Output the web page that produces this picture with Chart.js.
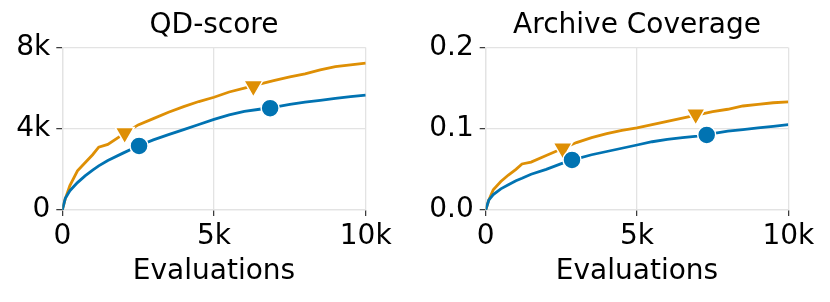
<!DOCTYPE html>
<html>
<head>
<meta charset="utf-8">
<script src="https://cdn.jsdelivr.net/npm/chart.js@4"></script>
<style>
  body { margin: 0; background: #fff; }
  #wrap { display: flex; width: 830px; height: 302px; }
  canvas { display: block; }
</style>
</head>
<body>
<div id="wrap">
  <canvas id="qd-chart" width="415" height="302"></canvas>
  <canvas id="cov-chart" width="415" height="302"></canvas>
</div>
<script>
// evaluation counts shared by every curve
const evals = [0, 100, 250, 500, 750, 1000, 1200, 1500, 2000, 2500, 3000, 3500, 4000,
  4500, 5000, 5500, 6000, 6500, 7000, 7500, 8000, 8500, 9000, 9500, 10000];

// QD-score
const qdBlue = [0, 580, 950, 1350, 1680, 1960, 2170, 2440, 2800, 3150, 3450, 3710, 3960,
  4210, 4460, 4680, 4850, 4960, 5060, 5200, 5310, 5400, 5490, 5580, 5660];
const qdOrange = [0, 560, 1200, 1930, 2330, 2720, 3090, 3230, 3720, 4190, 4500, 4810, 5090,
  5340, 5550, 5810, 6000, 6200, 6380, 6550, 6700, 6900, 7060, 7150, 7230];
const qdBlueMarkX = [2530, 6850];
const qdBlueMarkY = [3155, 5013];
const qdOrangeMarkX = [2056, 6296];
const qdOrangeMarkY = [3795, 6100];

// Archive coverage
const covBlue = [0, 0.012, 0.019, 0.026, 0.031, 0.036, 0.039, 0.044, 0.050, 0.057, 0.063, 0.068, 0.072,
  0.076, 0.080, 0.084, 0.087, 0.089, 0.091, 0.094, 0.097, 0.099, 0.101, 0.103, 0.105];
const covOrange = [0, 0.012, 0.025, 0.035, 0.043, 0.050, 0.0567, 0.059, 0.067, 0.075, 0.083, 0.089, 0.094,
  0.098, 0.101, 0.105, 0.109, 0.113, 0.117, 0.121, 0.124, 0.128, 0.130, 0.132, 0.133];
const covBlueMarkX = [2852, 7303];
const covBlueMarkY = [0.0616, 0.0924];
const covOrangeMarkX = [2545, 6940];
const covOrangeMarkY = [0.076, 0.1179];

const xTicks = [0, 5000, 10000];

const BLUE = '#0173b2';
const ORANGE = '#de8f05';
const GRID = '#e3e3e3';

Chart.defaults.font.family = "'DejaVu Sans', sans-serif";
Chart.defaults.font.size = 28;
Chart.defaults.color = '#000';

function toPoints(xs, ys) {
  return xs.map((x, i) => ({ x: x, y: ys[i] }));
}

function kLabel(v) {
  return v === 0 ? '0' : (v / 1000) + 'k';
}

function lineSet(ys, color) {
  return {
    type: 'line',
    data: toPoints(evals, ys),
    borderColor: color,
    borderWidth: 2.8,
    pointRadius: 0,
    tension: 0,
    fill: false,
    order: 2,
  };
}

function markSet(xs, ys, color, style) {
  return {
    type: 'scatter',
    data: toPoints(xs, ys),
    backgroundColor: color,
    borderColor: '#fff',
    borderWidth: 1.5,
    pointStyle: style,
    pointRadius: style === 'circle' ? 9 : 11,
    pointRotation: style === 'triangle' ? 180 : 0,
    order: 1,
  };
}

function makeChart(el, title, datasets, yMax, yStep, yFmt, yWidth, padRight) {
  return new Chart(el.getContext('2d'), {
    type: 'line',
    data: { datasets: datasets },
    options: {
      responsive: false,
      animation: false,
      layout: { padding: { left: 0, right: padRight, top: 0, bottom: 0 } },
      plugins: {
        legend: { display: false },
        tooltip: { enabled: false },
        title: {
          display: true,
          text: title,
          fullSize: false,
          color: '#000',
          font: { size: 28, weight: 'normal' },
          padding: { top: 9.2, bottom: 4.7 },
        },
      },
      scales: {
        x: {
          type: 'linear',
          min: 0,
          max: 10000,
          afterFit: (s) => { s.height = 92; },
          afterBuildTicks: (s) => { s.ticks = xTicks.map((v) => ({ value: v })); },
          ticks: { callback: kLabel, padding: 4, maxRotation: 0 },
          grid: { color: GRID, lineWidth: 1.3, tickColor: '#333', tickLength: 6, tickWidth: 1.2 },
          border: { color: GRID, width: 1.3 },
          title: { display: true, text: 'Evaluations', color: '#000', padding: { top: 0, bottom: 13.5 } },
        },
        y: {
          min: 0,
          max: yMax,
          afterFit: (s) => { s.width = yWidth; },
          ticks: { stepSize: yStep, callback: yFmt, padding: 6 },
          grid: { color: GRID, lineWidth: 1.3, tickColor: '#333', tickLength: 6, tickWidth: 1.2 },
          border: { color: GRID, width: 1.3 },
        },
      },
    },
  });
}

makeChart(document.getElementById('qd-chart'), 'QD-score', [
  lineSet(qdBlue, BLUE),
  lineSet(qdOrange, ORANGE),
  markSet(qdBlueMarkX, qdBlueMarkY, BLUE, 'circle'),
  markSet(qdOrangeMarkX, qdOrangeMarkY, ORANGE, 'triangle'),
], 8000, 4000, kLabel, 62.3, 49.3);

makeChart(document.getElementById('cov-chart'), 'Archive Coverage', [
  lineSet(covBlue, BLUE),
  lineSet(covOrange, ORANGE),
  markSet(covBlueMarkX, covBlueMarkY, BLUE, 'circle'),
  markSet(covOrangeMarkX, covOrangeMarkY, ORANGE, 'triangle'),
], 0.2, 0.1, (v) => v.toFixed(1), 70.7, 41.7);
</script>
</body>
</html>
